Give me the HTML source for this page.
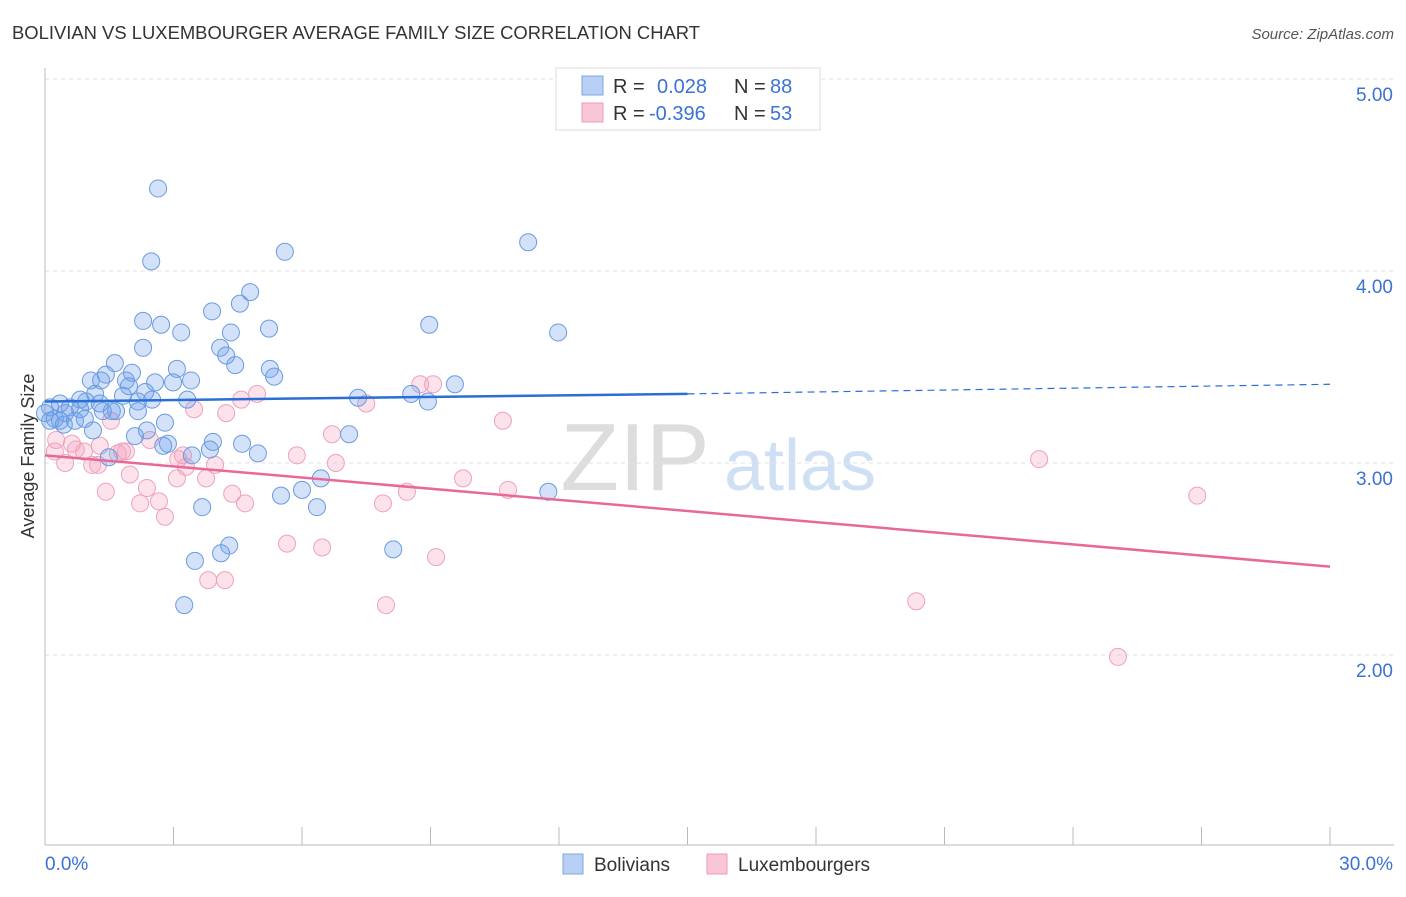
<!DOCTYPE html>
<html><head><meta charset="utf-8"><style>
body{margin:0;background:#fff;font-family:"Liberation Sans",sans-serif;}
svg text{font-family:"Liberation Sans",sans-serif;}
</style></head><body>
<svg id="chart" width="1406" height="892" viewBox="0 0 1406 892" xmlns="http://www.w3.org/2000/svg">
<text x="12" y="39" font-size="18" fill="#333" textLength="688" lengthAdjust="spacingAndGlyphs">BOLIVIAN VS LUXEMBOURGER AVERAGE FAMILY SIZE CORRELATION CHART</text>
<text x="1394" y="39" font-size="15" fill="#555" font-style="italic" text-anchor="end">Source: ZipAtlas.com</text>
<g>
<text x="635" y="490" font-size="96" fill="#ddd" font-family="Liberation Serif,serif" text-anchor="middle">ZIP</text>
<text x="800" y="490" font-size="72" fill="#cfe0f5" text-anchor="middle">atlas</text>
</g>
<g id="grid"></g>
<g id="axes"></g>
<g id="marks"></g>
<text transform="translate(34,456) rotate(-90)" font-size="18" fill="#333" text-anchor="middle">Average Family Size</text>
<g>
<rect x="556" y="68" width="264" height="62" fill="#fff" stroke="#ddd"/>
<rect x="582" y="76" width="21" height="19" fill="#b8d0f3" stroke="#7ea6e4"/>
<rect x="582" y="103" width="21" height="19" fill="#f9c6d6" stroke="#ec9cb6"/>
<text x="613" y="93" font-size="20" fill="#333">R = </text><text x="657" y="93" font-size="20" fill="#3a72d8">0.028</text>
<text x="734" y="93" font-size="20" fill="#333">N = </text><text x="770" y="93" font-size="20" fill="#3a72d8">88</text>
<text x="613" y="120" font-size="20" fill="#333">R = </text><text x="649" y="120" font-size="20" fill="#3a72d8">-0.396</text>
<text x="734" y="120" font-size="20" fill="#333">N = </text><text x="770" y="120" font-size="20" fill="#3a72d8">53</text>
</g>
<g>
<rect x="563" y="854" width="20" height="20" fill="#b8d0f3" stroke="#7ea6e4"/>
<text x="594" y="871" font-size="19" fill="#333">Bolivians</text>
<rect x="707" y="854" width="20" height="20" fill="#f9c6d6" stroke="#ec9cb6"/>
<text x="738" y="871" font-size="19" fill="#333">Luxembourgers</text>
</g>
</svg>
<script>
const yTicks=[2,3,4,5];
const yTickLabels=["2.00","3.00","4.00","5.00"];
const xTickLabels=["0.0%","30.0%"];
const bolX=[2.64,2.48,5.60,11.28,4.79,4.55,3.90,2.29,2.71,3.18,4.34,5.23,8.97,11.98,2.29,4.09,4.23,4.44,1.63,3.08,5.25,2.03,1.42,5.35,1.07,1.31,1.89,2.57,2.99,3.41,1.96,1.82,2.50,2.17,3.32,7.31,8.55,8.94,9.57,1.17,0.82,0.35,0.96,0.58,1.28,1.66,2.17,1.56,0.82,0.12,0.23,0.47,0,0.44,1.12,2.38,2.80,2.10,7.10,3.92,2.76,2.87,4.60,3.85,4.97,3.43,1.49,6.44,6.00,5.51,6.35,3.67,11.75,4.30,4.11,3.50,8.13,3.25,0.12,0.70,0.93,0.35,1.35,2.34];
const bolY=[4.43,4.05,4.10,4.15,3.89,3.83,3.79,3.74,3.72,3.68,3.68,3.70,3.72,3.68,3.60,3.60,3.56,3.51,3.52,3.49,3.49,3.47,3.46,3.45,3.43,3.43,3.43,3.42,3.42,3.43,3.40,3.35,3.33,3.32,3.33,3.34,3.36,3.32,3.41,3.36,3.33,3.31,3.32,3.29,3.31,3.27,3.27,3.27,3.28,3.29,3.23,3.26,3.26,3.20,3.17,3.17,3.21,3.14,3.15,3.11,3.09,3.10,3.10,3.07,3.05,3.04,3.03,2.92,2.86,2.83,2.77,2.77,2.85,2.57,2.53,2.49,2.55,2.26,3.22,3.22,3.23,3.22,3.27,3.37];
const luxX=[23.21,26.90,20.34,25.05,9.06,8.76,4.95,4.58,7.50,3.48,4.23,10.69,1.54,6.70,2.45,0.26,0.63,1.28,1.80,3.22,5.88,0.23,0.91,0.72,0.47,1.10,1.24,3.97,3.11,3.29,6.79,1.98,3.08,3.76,9.76,2.38,1.42,4.37,8.45,10.81,2.66,2.22,4.67,7.89,2.80,5.65,6.47,9.13,3.81,4.20,7.96,1.89,1.70];
const luxY=[3.02,2.83,2.28,1.99,3.41,3.41,3.36,3.33,3.31,3.28,3.26,3.22,3.22,3.15,3.12,3.12,3.10,3.09,3.06,3.04,3.04,3.06,3.06,3.07,3.00,2.99,2.99,2.99,3.02,2.98,3.00,2.94,2.92,2.92,2.92,2.87,2.85,2.84,2.85,2.86,2.80,2.79,2.79,2.79,2.72,2.58,2.56,2.51,2.39,2.39,2.26,3.06,3.05];
const bolTrend=[3.32,3.36,3.41]; // at x=0,15,30
const luxTrend=[3.04,2.46]; // at x=0,30
const NS="http://www.w3.org/2000/svg";
const X=v=>45+v/30*1285, Y=v=>463-(v-3)*192;
function mk(t,a,p){const e=document.createElementNS(NS,t);for(const k in a)e.setAttribute(k,a[k]);p.appendChild(e);return e;}
const grid=document.getElementById('grid'),axes=document.getElementById('axes'),marks=document.getElementById('marks');
yTicks.forEach((t,i)=>{
 const l=mk('line',{x1:45,x2:1394,y1:Y(t),y2:Y(t),stroke:'#e2e2e2','stroke-dasharray':'4,4'},grid);
 
 
 const tx=mk('text',{x:1393,y:Y(t)+22,'font-size':19,fill:'#3a72d8','text-anchor':'end'},axes);
 tx.textContent=yTickLabels[i];
 
 
});
const yax=mk('line',{x1:45,x2:45,y1:68,y2:845,stroke:'#bbb'},axes);


const xax=mk('line',{x1:45,x2:1394,y1:845,y2:845,stroke:'#bbb'},axes);


for(let i=0;i<=10;i++){const tk=mk('line',{x1:X(i*3),x2:X(i*3),y1:827,y2:845,stroke:'#bbb'},axes);
 
 }
const xl0=mk('text',{x:45,y:870,'font-size':19,fill:'#3a72d8'},axes);xl0.textContent=xTickLabels[0];


const xl1=mk('text',{x:1393,y:870,'font-size':19,fill:'#3a72d8','text-anchor':'end'},axes);xl1.textContent=xTickLabels[1];


luxX.forEach((v,i)=>{const c=mk('circle',{cx:X(v),cy:Y(luxY[i]),r:8.5,fill:'rgba(244,160,190,0.3)',stroke:'#eea2bb','stroke-width':1},marks);
 
 });
bolX.forEach((v,i)=>{const c=mk('circle',{cx:X(v),cy:Y(bolY[i]),r:8.5,fill:'rgba(110,160,235,0.3)',stroke:'#6a9be0','stroke-width':1},marks);
 
 });
const bl=mk('line',{x1:X(0),y1:Y(bolTrend[0]),x2:X(15),y2:Y(bolTrend[1]),stroke:'#2a6fd6','stroke-width':2.5},marks);


const bd=mk('line',{x1:X(15),y1:Y(bolTrend[1]),x2:X(30),y2:Y(bolTrend[2]),stroke:'#2a6fd6','stroke-width':1.2,'stroke-dasharray':'7,5'},marks);


const ll=mk('line',{x1:X(0),y1:Y(luxTrend[0]),x2:X(30),y2:Y(luxTrend[1]),stroke:'#e8689a','stroke-width':2.5},marks);


</script>
</body></html>
